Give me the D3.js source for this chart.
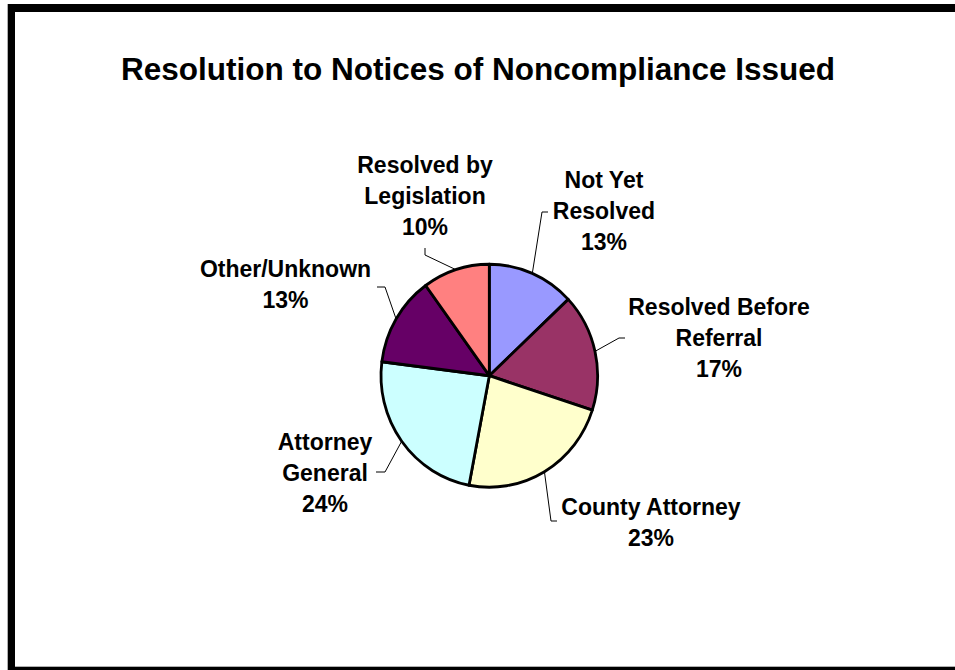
<!DOCTYPE html>
<html>
<head>
<meta charset="utf-8">
<script src="https://cdn.jsdelivr.net/npm/d3@7/dist/d3.min.js"></script>
<style>
  html, body { margin: 0; padding: 0; background: #fff; }
  svg { display: block; }
  text { font-family: "Liberation Sans", Arial, sans-serif; font-weight: bold; fill: #000; }
</style>
</head>
<body>
<svg id="chart" width="955" height="670"></svg>
<script>
// Outcome categories, clockwise from 12 o'clock
const categories = [
  "Not Yet Resolved",
  "Resolved Before Referral",
  "County Attorney",
  "Attorney General",
  "Other/Unknown",
  "Resolved by Legislation"
];
// Share of notices (percent)
const shares = [13, 17, 23, 24, 13, 10];
// Label text lines for each slice (percentage appended from shares)
const labelLines = [
  ["Not Yet", "Resolved"],
  ["Resolved Before", "Referral"],
  ["County Attorney"],
  ["Attorney", "General"],
  ["Other/Unknown"],
  ["Resolved by", "Legislation"]
];
const sliceColors = ["#9999FF", "#993366", "#FFFFCC", "#CCFFFF", "#660066", "#FF8080"];

const W = 955, H = 670;
const svg = d3.select("#chart");

// Page frame
svg.append("rect").attr("x", 7).attr("y", 4).attr("width", 1).attr("height", H - 4).attr("fill", "#b0b0b0");
svg.append("rect").attr("x", 15).attr("y", 666).attr("width", W - 15).attr("height", 1).attr("fill", "#b0b0b0");
svg.append("rect").attr("x", 8).attr("y", 4).attr("width", W - 8).attr("height", 8).attr("fill", "#000");
svg.append("rect").attr("x", 8).attr("y", 4).attr("width", 7).attr("height", H - 4).attr("fill", "#000");
svg.append("rect").attr("x", 8).attr("y", 667).attr("width", W - 8).attr("height", 3).attr("fill", "#000");

// Title
svg.append("text")
  .attr("x", 478).attr("y", 80)
  .attr("text-anchor", "middle")
  .style("font-size", "31.5px")
  .text("Resolution to Notices of Noncompliance Issued");

// Pie geometry
const cx = 489.3, cy = 375.7, r = 108.3, squash = 111.5 / 108.3;

const pie = d3.pie().sort(null).value(d => d.value);
const data = categories.map((c, i) => ({ name: c, value: shares[i], lines: labelLines[i], color: sliceColors[i] }));
const arcs = pie(data);
const arc = d3.arc().innerRadius(0).outerRadius(r);
const edge = d3.arc().innerRadius(r).outerRadius(r);

const g = svg.append("g").attr("transform", `translate(${cx},${cy}) scale(1,${squash})`);
g.selectAll("path.slice")
  .data(arcs)
  .join("path")
  .attr("class", "slice")
  .attr("d", arc)
  .attr("fill", d => d.data.color)
  .attr("stroke", "#000")
  .attr("stroke-width", 2.8)
  .attr("stroke-linejoin", "round");

// Label placement: text centre x, first baseline y, and leader elbow points
const labelLayout = [
  { x: 604, y: 188, bend: [[542, 212], [548, 212]] },
  { x: 719, y: 315, bend: [[619, 338], [625, 338]] },
  { x: 651, y: 515, bend: [[551, 521], [557, 521]] },
  { x: 325, y: 450, bend: [[385, 472], [376, 472]] },
  { x: 285.5, y: 277, bend: [[385, 287], [377, 287]] },
  { x: 425, y: 173, bend: [[425, 255], [425, 248]] }
];
const lineGap = 31;

arcs.forEach((d, i) => {
  const L = labelLayout[i];
  const [ex, ey] = edge.centroid(d);
  const start = [cx + ex, cy + ey * squash];
  svg.append("path")
    .attr("d", d3.line()([start, ...L.bend]))
    .attr("fill", "none")
    .attr("stroke", "#000")
    .attr("stroke-width", 1);

  const lines = d.data.lines.concat([d.data.value + "%"]);
  const t = svg.append("text")
    .attr("text-anchor", "middle")
    .style("font-size", "23px");
  lines.forEach((s, k) => {
    t.append("tspan").attr("x", L.x).attr("y", L.y + k * lineGap).text(s);
  });
});
</script>
</body>
</html>
